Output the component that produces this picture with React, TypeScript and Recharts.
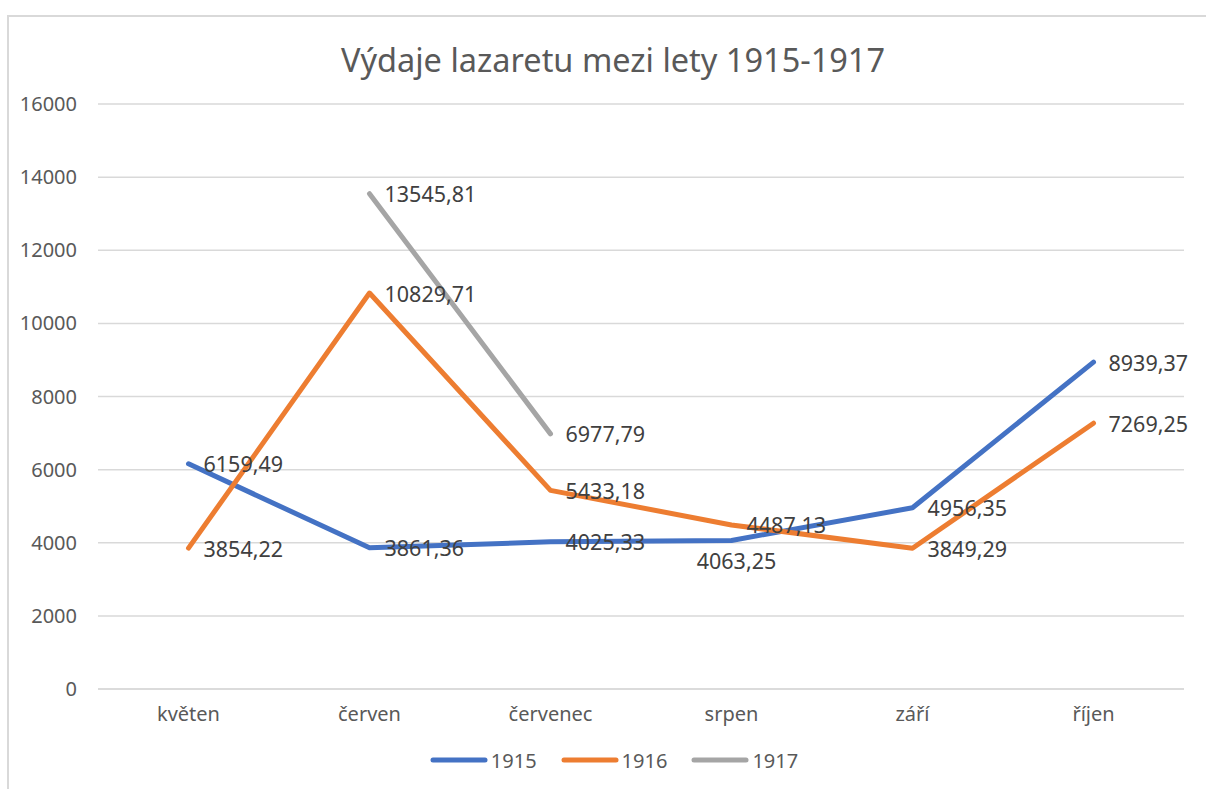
import { CartesianGrid, LabelList, Legend, Line, LineChart, XAxis, YAxis } from 'recharts'

const months = ['květen', 'červen', 'červenec', 'srpen', 'září', 'říjen']
const values1915 = [6159.49, 3861.36, 4025.33, 4063.25, 4956.35, 8939.37]
const values1916 = [3854.22, 10829.71, 5433.18, 4487.13, 3849.29, 7269.25]
const values1917 = [null, 13545.81, 6977.79, null, null, null]
const yTicks = [0, 2000, 4000, 6000, 8000, 10000, 12000, 14000, 16000]

const series = [
  { key: 'y1915', name: '1915', color: '#4472C4' },
  { key: 'y1916', name: '1916', color: '#ED7D31' },
  { key: 'y1917', name: '1917', color: '#A5A5A5' },
]

// labels that Excel pushed under the point instead of to the right
const labelsBelow: Record<string, number[]> = { y1915: [3] }

const data = months.map((month, i) => ({
  month,
  y1915: values1915[i],
  y1916: values1916[i],
  y1917: values1917[i],
}))

const FONT = '"Noto Sans", sans-serif'

const formatValue = (v: number) => v.toFixed(2).replace('.', ',')

const makeLabel = (key: string) => (props: any) => {
  const { x, y, value, index } = props
  if (value === null || value === undefined) return null
  const below = (labelsBelow[key] || []).includes(index)
  return (
    <text
      x={below ? x + 5 : x + 15}
      y={below ? y + 21 : y + 1}
      dy="0.35em"
      textAnchor={below ? 'middle' : 'start'}
      fill="#404040"
      fontSize={21.5}
      fontFamily={FONT}
    >
      {formatValue(value)}
    </text>
  )
}

const LegendContent = () => (
  <div
    style={{
      height: 30,
      display: 'flex',
      justifyContent: 'center',
      alignItems: 'center',
      gap: 24,
      fontFamily: FONT,
      fontSize: 20,
      color: '#595959',
      paddingLeft: 26,
    }}
  >
    {series.map((s) => (
      <div key={s.key} style={{ display: 'flex', alignItems: 'center' }}>
        <svg width={58} height={8}>
          <line x1={3} y1={4} x2={55} y2={4} stroke={s.color} strokeWidth={5} strokeLinecap="round" />
        </svg>
        <span style={{ marginLeft: 3 }}>{s.name}</span>
      </div>
    ))}
  </div>
)

export default function App() {
  return (
    <div style={{ position: 'absolute', left: 0, top: 0, width: 1206, height: 789, overflow: 'hidden', background: '#fff' }}>
      <div
        style={{
          position: 'absolute',
          left: 7,
          top: 15,
          width: 1220,
          height: 800,
          border: '2px solid #d9d9d9',
        }}
      />
      <div
        style={{
          position: 'absolute',
          left: 0,
          top: 37,
          width: 1226,
          textAlign: 'center',
          fontFamily: FONT,
          fontSize: 32.5,
          color: '#595959',
        }}
      >
        Výdaje lazaretu mezi lety 1915-1917
      </div>
      <div style={{ position: 'absolute', left: 0, top: 0 }}>
        <LineChart width={1206} height={789} data={data} margin={{ top: 104, right: 22, bottom: 14, left: 18 }}>
          <CartesianGrid vertical={false} stroke="#d9d9d9" strokeWidth={1.5} />
          <XAxis
            dataKey="month"
            height={56}
            padding={{ left: 90.5, right: 90.5 }}
            axisLine={{ stroke: '#d9d9d9', strokeWidth: 1.5 }}
            tickLine={false}
            tickMargin={12}
            tick={{ fill: '#595959', fontSize: 20, fontFamily: FONT }}
          />
          <YAxis
            width={80}
            domain={[0, 16000]}
            ticks={yTicks}
            axisLine={false}
            tickLine={false}
            tickMargin={15}
            tick={{ fill: '#595959', fontSize: 20, fontFamily: FONT }}
          />
          <Legend verticalAlign="bottom" content={<LegendContent />} />
          {series.map((s) => (
            <Line
              key={s.key}
              dataKey={s.key}
              name={s.name}
              stroke={s.color}
              strokeWidth={5}
              strokeLinecap="round"
              strokeLinejoin="round"
              dot={false}
              activeDot={false}
              isAnimationActive={false}
            >
              <LabelList dataKey={s.key} content={makeLabel(s.key)} />
            </Line>
          ))}
        </LineChart>
      </div>
    </div>
  )
}
